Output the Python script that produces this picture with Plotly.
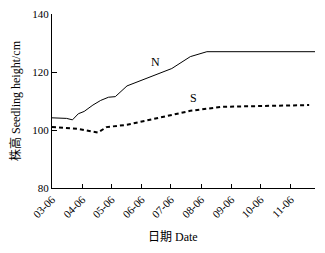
import plotly.graph_objects as go

n_dates = ["2010-03-06", "2010-03-14", "2010-03-21", "2010-03-27", "2010-04-02", "2010-04-08",
           "2010-04-17", "2010-04-25", "2010-05-03", "2010-05-10", "2010-05-22", "2010-07-07",
           "2010-07-26", "2010-08-12", "2010-12-01"]
n_values = [104.2, 104.2, 104.0, 103.5, 105.6, 106.4, 108.6, 110.2, 111.3, 111.5, 115.2, 121.2,
            125.3, 127.0, 127.0]

s_dates = ["2010-03-06", "2010-03-14", "2010-04-02", "2010-04-22", "2010-05-01", "2010-05-22",
           "2010-06-21", "2010-07-26", "2010-08-28", "2010-10-12", "2010-11-25"]
s_values = [101.0, 100.8, 100.4, 99.1, 101.0, 101.8, 103.9, 106.6, 108.0, 108.2, 108.6]

tick_dates = ["2010-03-06", "2010-04-06", "2010-05-06", "2010-06-06", "2010-07-06",
              "2010-08-06", "2010-09-06", "2010-10-06", "2010-11-06"]
tick_labels = ["03-06", "04-06", "05-06", "06-06", "07-06", "08-06", "09-06", "10-06", "11-06"]

font_fam = "Liberation Serif, Noto Sans CJK SC, serif"

fig = go.Figure()
fig.add_trace(go.Scatter(x=n_dates, y=n_values, mode="lines",
                         line=dict(color="black", width=1), showlegend=False))
fig.add_trace(go.Scatter(x=s_dates, y=s_values, mode="lines",
                         line=dict(color="black", width=2, dash="4px,3px"), showlegend=False))

fig.add_annotation(x="2010-06-20", y=123.5, text="N", showarrow=False,
                   font=dict(family=font_fam, size=12, color="black"))
fig.add_annotation(x="2010-07-29", y=111.0, text="S", showarrow=False,
                   font=dict(family=font_fam, size=12, color="black"))
fig.add_annotation(x=0.357, y=-0.28, xref="paper", yref="paper",
                   xanchor="left", yanchor="middle",
                   text="日期 Date", showarrow=False,
                   font=dict(family=font_fam, size=12, color="black"))

# page body adds an 8px offset, margins compensate
fig.update_layout(
    width=325, height=253,
    margin=dict(l=44, r=18, t=6, b=73),
    paper_bgcolor="white", plot_bgcolor="white",
    font=dict(family=font_fam, size=11, color="black"),
)
fig.update_xaxes(
    type="date", range=["2010-03-06", "2010-12-01"], automargin=False,
    tickmode="array", tickvals=tick_dates, ticktext=tick_labels, tickangle=-45,
    ticks="inside", ticklen=4, tickcolor="black", tickwidth=1,
    showline=True, linecolor="black", linewidth=1, showgrid=False, zeroline=False,
    tickfont=dict(size=11), ticklabeloverflow="allow",
)
fig.update_yaxes(
    range=[80, 140], tickvals=[80, 100, 120, 140], automargin=False,
    ticks="inside", ticklen=5, tickcolor="black", tickwidth=1,
    showline=True, linecolor="black", linewidth=1, showgrid=False, zeroline=False,
    title=dict(text="株高 Seedling height/cm", font=dict(size=12), standoff=11),
    tickfont=dict(size=11), ticklabeloverflow="allow",
)

fig.write_html("out.html")
